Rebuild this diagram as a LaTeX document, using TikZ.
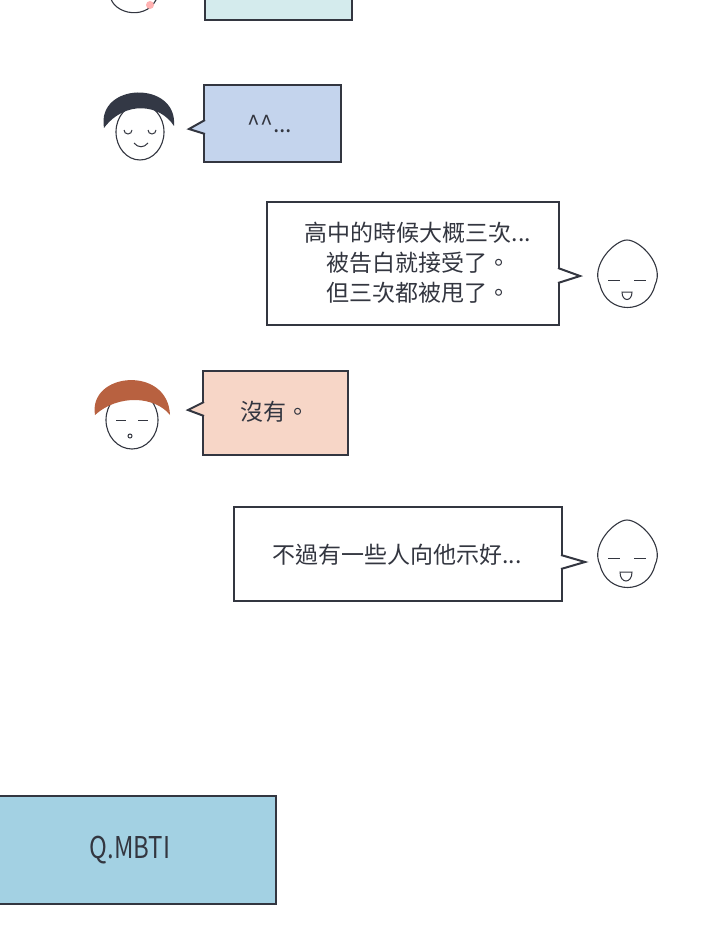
\documentclass[tikz,border=0pt]{standalone}
\usepackage{fontspec}
\setmainfont{Noto Sans CJK TC}
\usepackage{tikz}
\definecolor{ink}{rgb}{0.2,0.21,0.25}
\definecolor{cyanbox}{rgb}{0.83,0.92,0.93}
\definecolor{bluebox}{rgb}{0.77,0.83,0.93}
\definecolor{peachbox}{rgb}{0.97,0.84,0.78}
\definecolor{qbox}{rgb}{0.64,0.82,0.89}
\definecolor{darkhair}{rgb}{0.2,0.22,0.27}
\definecolor{brownhair}{rgb}{0.72,0.38,0.25}
\tikzset{
  bubble/.style={draw=ink,line width=2pt},
  talk/.style={font=\fontsize{23}{30}\selectfont,text=ink,align=center},
  facel/.style={draw=ink,line width=1.1pt,fill=white}
}
\begin{document}
\begin{tikzpicture}[x=1pt,y=-1pt]
		\useasboundingbox (0,0) rectangle (720,939);
		% top bubble and face, cut off
		\draw[bubble,fill=cyanbox] (205,-5) rectangle (352,20);
		\draw[facel] (110,-5) .. controls (112,15) and (150,22) .. (158,-5);
		\fill[red!30] (150,5) circle (4);
		% bubble with ^^...
		\draw[bubble,fill=bluebox] (204,85) rectangle (341,162);
		\draw[bubble,fill=bluebox,line join=miter] (205,120) -- (189,129) -- (205,134);
		\node[talk] (b1) at (270,124) {\^{}\^{}...};
		\draw[facel] (140,132) ellipse (24 and 28);
		\fill[darkhair] (104,128) .. controls (96,82) and (178,80) .. (174,126) .. controls (160,104) and (125,100) .. (104,128) -- cycle;
		\draw[ink,line width=1pt] (124,130) arc (180:0:4) (148,130) arc (180:0:4);
		\draw[ink,line width=1pt] (134,143) .. controls (138,148) and (144,148) .. (148,143);
		% bubble from egg
		\draw[bubble,fill=white] (267,202) rectangle (559,325);
		\draw[bubble,fill=white,line join=miter] (558,268) -- (580,276) -- (558,283);
		\node[talk] (b2) at (418,263) {高中的時候大概三次...\\被告白就接受了。\\但三次都被甩了。};
		\draw[facel] (600,285) .. controls (590,265) and (615,240) .. (627,240) .. controls (640,240) and (665,265) .. (655,285) .. controls (648,315) and (607,315) .. (600,285) -- cycle;
		\draw[ink,line width=1pt] (608,280) -- (620,280) (634,280) -- (646,280);
		\draw[ink,line width=1pt] (622,292) .. controls (622,302) and (632,302) .. (632,292) -- cycle;
		% brown hair face and bubble
		\draw[bubble,fill=peachbox] (203,371) rectangle (348,455);
		\draw[bubble,fill=peachbox,line join=miter] (204,402) -- (188,410) -- (204,416);
		\node[talk] (b3) at (275,412) {沒有。};
		\draw[facel] (132,420) ellipse (26 and 29);
		\fill[brownhair] (95,415) .. controls (88,372) and (168,365) .. (170,415) .. controls (155,396) and (118,394) .. (95,415) -- cycle;
		\draw[ink,line width=1pt] (116,420) -- (126,420) (138,420) -- (148,420);
		\draw[ink,line width=1pt] (130,436) circle (2);
		% second egg bubble
		\draw[bubble,fill=white] (234,507) rectangle (562,601);
		\draw[bubble,fill=white,line join=miter] (561,555) -- (585,562) -- (561,569);
		\node[talk] (b4) at (397,555) {不過有一些人向他示好...};
		\draw[facel] (600,565) .. controls (590,545) and (615,520) .. (627,520) .. controls (640,520) and (665,545) .. (655,565) .. controls (648,595) and (607,595) .. (600,565) -- cycle;
		\draw[ink,line width=1pt] (608,558) -- (620,558) (634,558) -- (646,558);
		\draw[ink,line width=1pt] (620,572) .. controls (620,584) and (632,584) .. (632,572) -- cycle;
		% question box
		\draw[bubble,fill=qbox] (-5,796) rectangle (276,904);
		\node[talk,font=\fontsize{30}{32}\selectfont,xscale=0.8] (q) at (130,850) {Q.MBTI};
	\end{tikzpicture}
\end{document}
